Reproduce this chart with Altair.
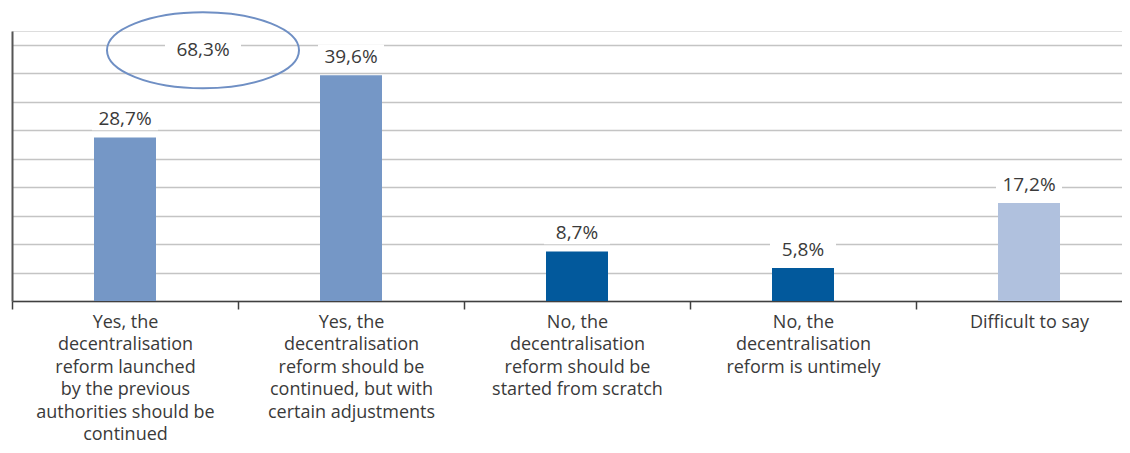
import altair as alt
import pandas as pd

categories = [
    "Yes, the\ndecentralisation\nreform launched\nby the previous\nauthorities should be\ncontinued",
    "Yes, the\ndecentralisation\nreform should be\ncontinued, but with\ncertain adjustments",
    "No, the\ndecentralisation\nreform should be\nstarted from scratch",
    "No, the\ndecentralisation\nreform is untimely",
    "Difficult to say",
]
values = [28.7, 39.6, 8.7, 5.8, 17.2]
labels = ["28,7%", "39,6%", "8,7%", "5,8%", "17,2%"]
bar_colors = ["#7597c6", "#7597c6", "#02599c", "#02599c", "#b0c1de"]
combined_value = 68.3
combined_label = "68,3%"
combined_y = 44.0
grid_values = [0, 5, 10, 15, 20, 25, 30, 35, 40, 45]

df = pd.DataFrame({"cat": categories, "value": values, "label": labels, "color": bar_colors})
cdf = pd.DataFrame({"cat": [categories[0]], "value": [combined_y],
                    "label": [combined_label], "total": [combined_value]})

FONT = "Open Sans"
TXT = "#3a3a3a"

x = alt.X("cat:N", sort=categories, title=None,
          scale=alt.Scale(paddingInner=0, paddingOuter=0, range=[0, 1130]),
          axis=alt.Axis(labelExpr="split(datum.label, '\\n')", labelAngle=0,
                        labelFont=FONT, labelFontSize=18, labelLineHeight=22.5,
                        labelColor=TXT, labelLimit=0, labelOverlap=False,
                        labelPadding=4, domainColor="#404040", domainWidth=1.5,
                        tickColor="#404040", tickWidth=1.5, tickSize=8,
                        tickBand="extent", grid=False))
y = alt.Y("value:Q", title=None,
          scale=alt.Scale(domain=[0, 47.37], nice=False, zero=True),
          axis=alt.Axis(values=grid_values, labels=False, ticks=False,
                        domainColor="#555555", domainWidth=2,
                        grid=True, gridColor="#c4c4c4", gridWidth=1.5))

base = alt.Chart(df)

bars = base.mark_bar(size=62).encode(
    x=x, y=y, color=alt.Color("color:N", scale=None))

rect_path = "M-1,-0.36L1,-0.36L1,0.36L-1,0.36Z"
boxes = base.mark_point(shape=rect_path, size=66 * 66, filled=True, fill="white",
                        opacity=1, strokeWidth=0, yOffset=-19).encode(x=x, y=y)

texts = base.mark_text(font=FONT, fontSize=19, color=TXT, baseline="alphabetic",
                       dy=-12).encode(x=x, y=y, text="label:N")

cbase = alt.Chart(cdf)
cbox = cbase.mark_point(shape="M-1,-0.32L1,-0.32L1,0.32L-1,0.32Z", size=76 * 76,
                        filled=True, fill="white", opacity=1, strokeWidth=0).encode(
    x=x, xOffset=alt.value(191), y=y)
ellipse = cbase.mark_point(shape="M-1,0A1,0.396,0,1,1,1,0A1,0.396,0,1,1,-1,0",
                           size=192 * 192, filled=False, stroke="#6f8fc4",
                           strokeWidth=2, opacity=1).encode(
    x=x, xOffset=alt.value(191), y=y)
ctext = cbase.mark_text(font=FONT, fontSize=19, color=TXT, baseline="middle").encode(
    x=x, xOffset=alt.value(191), y=y, text="label:N")

chart = alt.layer(bars, boxes, texts, cbox, ellipse, ctext).properties(
    width=1110, height=270,
    autosize=alt.AutoSizeParams(type="none"),
    padding={"left": 4, "top": 23, "right": 0, "bottom": 144},
).configure_view(stroke=None, clip=False).configure(background="white")

chart.save("out.html", embed_options={"renderer": "svg", "actions": False})
